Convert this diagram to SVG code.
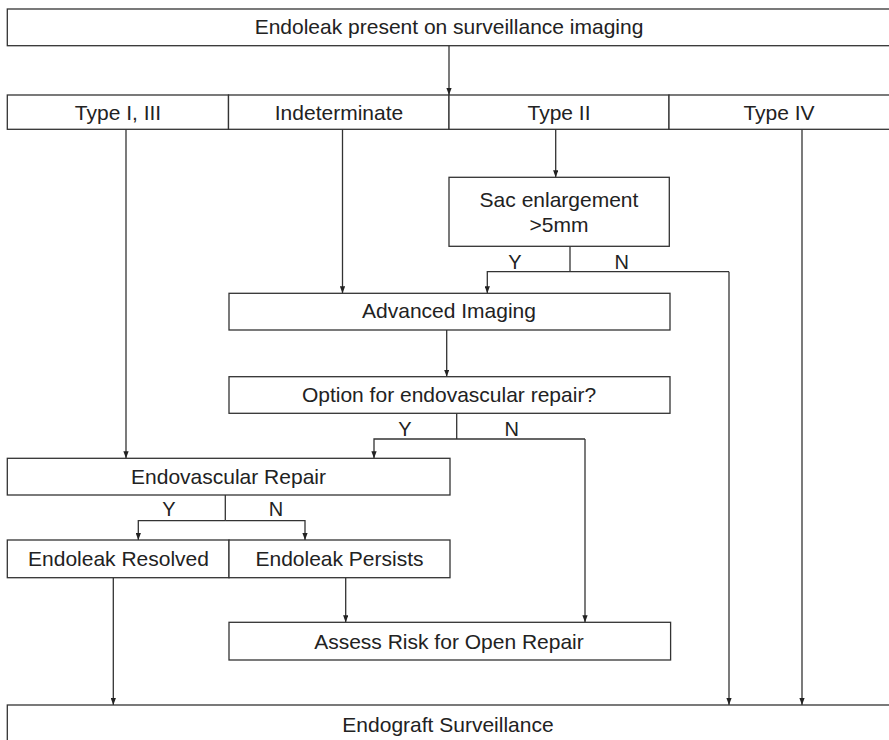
<svg xmlns="http://www.w3.org/2000/svg" width="889" height="740" viewBox="0 0 889 740">
<defs>
<marker id="ah" viewBox="0 0 8 6" refX="8" refY="3" markerWidth="7" markerHeight="5.5" markerUnits="userSpaceOnUse" orient="auto">
<path d="M0,0 L8,3 L0,6 z" fill="#222"/>
</marker>
<style>
.box{fill:#fff;stroke:#333;stroke-width:1.3}
.t{font-family:"Liberation Sans",Arial,sans-serif;font-size:21px;fill:#222;text-anchor:middle}
.yn{font-family:"Liberation Sans",Arial,sans-serif;font-size:20px;fill:#222;text-anchor:middle}
.c{fill:none;stroke:#333;stroke-width:1.3}
.a{fill:none;stroke:#333;stroke-width:1.3;marker-end:url(#ah)}
</style>
</defs>
<rect width="889" height="740" fill="#fff"/>
<g id="connectors">
<line class="a" x1="449" y1="45.7" x2="449" y2="95"/>
<line class="a" x1="126" y1="129.3" x2="126" y2="458.3"/>
<line class="a" x1="342.5" y1="129.3" x2="342.5" y2="293.3"/>
<line class="a" x1="555.7" y1="129.3" x2="555.7" y2="177.3"/>
<line class="a" x1="802" y1="129.3" x2="802" y2="705"/>
<polyline class="c" points="570,246.3 570,271.7"/>
<polyline class="a" points="729,271.7 487.3,271.7 487.3,293.3"/>
<polyline class="a" points="729,271.7 729,705"/>
<line class="a" x1="446.7" y1="330" x2="446.7" y2="376.7"/>
<polyline class="c" points="456.7,413.3 456.7,439"/>
<polyline class="a" points="585,439 374,439 374,458.3"/>
<polyline class="a" points="585,439 585,622.3"/>
<polyline class="c" points="225.3,495 225.3,520.7"/>
<polyline class="a" points="225.3,520.7 138.3,520.7 138.3,540"/>
<polyline class="a" points="225.3,520.7 305,520.7 305,540"/>
<line class="a" x1="113.3" y1="577.7" x2="113.3" y2="705"/>
<line class="a" x1="345.7" y1="577.7" x2="345.7" y2="622.3"/>
<text class="yn" x="515" y="269">Y</text>
<text class="yn" x="621.7" y="269">N</text>
<text class="yn" x="405" y="436">Y</text>
<text class="yn" x="511.7" y="436">N</text>
<text class="yn" x="169" y="516">Y</text>
<text class="yn" x="276" y="516">N</text>
</g>
<g id="n-top">
<rect class="box" x="7.3" y="9" width="900" height="36.7"/>
<text class="t" x="449" y="33.5">Endoleak present on surveillance imaging</text>
</g>
<g id="n-type13">
<rect class="box" x="7.3" y="95" width="221.2" height="34.3"/>
<text class="t" x="118" y="119.5">Type I, III</text>
</g>
<g id="n-indet">
<rect class="box" x="228.5" y="95" width="220.5" height="34.3"/>
<text class="t" x="339" y="119.5">Indeterminate</text>
</g>
<g id="n-type2">
<rect class="box" x="449" y="95" width="220" height="34.3"/>
<text class="t" x="559" y="119.5">Type II</text>
</g>
<g id="n-type4">
<rect class="box" x="669" y="95" width="240" height="34.3"/>
<text class="t" x="779" y="119.5">Type IV</text>
</g>
<g id="n-sac">
<rect class="box" x="449" y="177.3" width="220.3" height="69"/>
<text class="t" x="559" y="206.5">Sac enlargement</text>
<text class="t" x="559" y="232">&gt;5mm</text>
</g>
<g id="n-adv">
<rect class="box" x="229" y="293.3" width="441" height="36.7"/>
<text class="t" x="449" y="318">Advanced Imaging</text>
</g>
<g id="n-option">
<rect class="box" x="229" y="376.7" width="441" height="36.6"/>
<text class="t" x="449" y="402">Option for endovascular repair?</text>
</g>
<g id="n-endorepair">
<rect class="box" x="7.3" y="458.3" width="442.7" height="36.7"/>
<text class="t" x="228.5" y="483.5">Endovascular Repair</text>
</g>
<g id="n-resolved">
<rect class="box" x="7.3" y="540" width="221.7" height="37.7"/>
<text class="t" x="118.5" y="566">Endoleak Resolved</text>
</g>
<g id="n-persists">
<rect class="box" x="229" y="540" width="221" height="37.7"/>
<text class="t" x="339.5" y="566">Endoleak Persists</text>
</g>
<g id="n-assess">
<rect class="box" x="229" y="622.3" width="441.6" height="37.7"/>
<text class="t" x="449" y="648.5">Assess Risk for Open Repair</text>
</g>
<g id="n-surv">
<rect class="box" x="7.3" y="705" width="900" height="60"/>
<text class="t" x="448" y="731.5">Endograft Surveillance</text>
</g>
</svg>
